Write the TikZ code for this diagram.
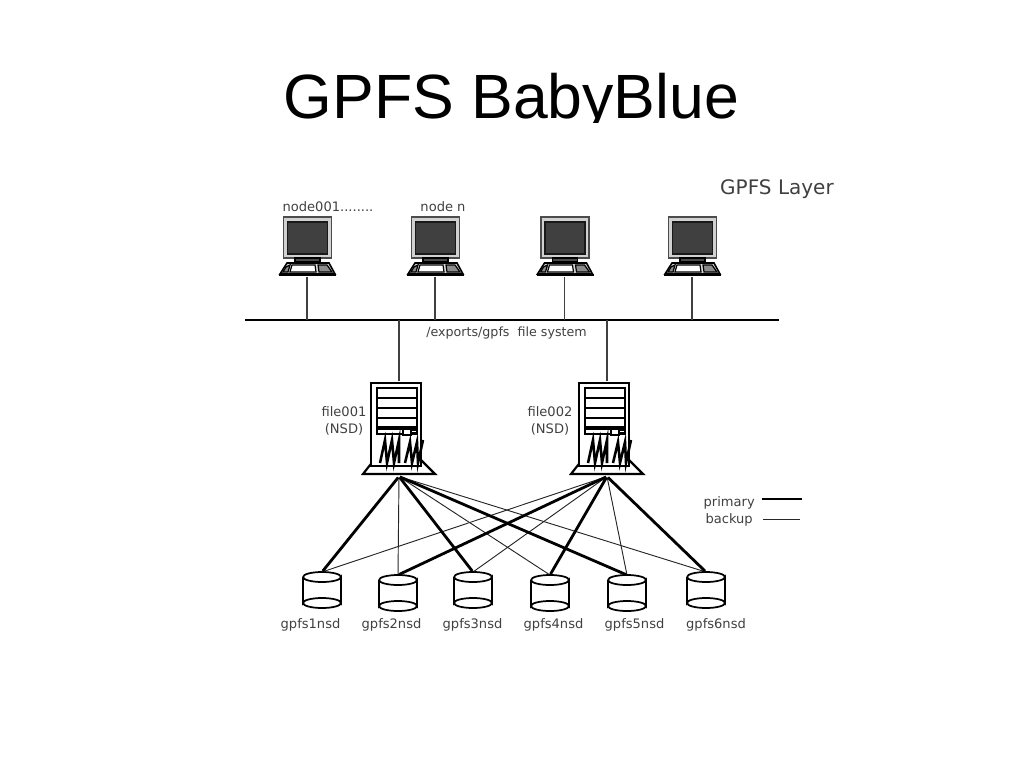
\documentclass[tikz,border=0pt]{standalone}
\usepackage{fontspec}
\setmainfont{DejaVu Sans}
\newfontfamily\titlefont{Liberation Sans}
\usetikzlibrary{arrows,shapes,positioning}
\tikzstyle{label} = [text=black!75, font=\fontsize{9.8pt}{12.8pt}\selectfont, align=center, inner sep=0pt]
\tikzstyle{anchorbox} = [inner sep=0pt, minimum width=1pt, minimum height=1pt]
\tikzstyle{thinline} = [black!75, line width=0.8pt]
\tikzstyle{backup} = [black!85, line width=0.7pt]
\tikzstyle{primary} = [black, line width=2.1pt]
\tikzstyle{frame} = [draw=black, line width=1.2pt]
% monitor with keyboard: x, y of its top left corner, name
\newcommand{\monitor}[3]{
    \begin{scope}[shift={(#1,#2)}]
        \draw [black!70, line width=0.8pt, fill=black!18] (4.5,0) rectangle (52.5,41);
        \draw [black!90, line width=1pt, fill=black!75] (8.5,5) rectangle (48.5,37);
        \draw [line width=0.8pt, fill=black!70] (16,41) rectangle (41,45);
        \draw [line width=1.2pt, fill=black!15] (8,46) -- (50,46) -- (56,57) -- (1,57) -- cycle;
        \draw [line width=0.9pt, fill=white] (13,48) -- (36,48) -- (37,55) -- (11,55) -- cycle;
        \draw [line width=0.9pt, fill=black!45] (7,50) -- (11,48) -- (9,55) -- (4,55) -- cycle;
        \draw [line width=0.9pt, fill=black!45] (39,48) -- (48,48) -- (53,55) -- (40,55) -- cycle;
        \draw [line width=1.8pt] (0,58) -- (57,58);
        \node (#3) [anchorbox] at (28,59) {};
    \end{scope}
}
% file server on its foot: x, y of its top left corner, name
\newcommand{\fileserver}[3]{
    \begin{scope}[shift={(#1,#2)}]
        \draw [frame, line width=1.6pt, fill=white] (-8,92) -- (64,92) -- (50,78) -- (3,78) -- cycle;
        \draw [frame, line width=1.7pt, fill=white] (0,1) rectangle (50,84);
        \draw [frame, fill=white] (6,6) rectangle (46,16);
        \draw [frame, fill=white] (6,16) rectangle (46,26);
        \draw [frame, fill=white] (6,26) rectangle (46,36);
        \draw [frame, fill=white] (6,36) rectangle (46,45);
        \draw [frame, line width=1.6pt, fill=white] (6,46.5) rectangle (46,52);
        \draw [frame, fill=white] (32,47) rectangle (40,53);
        \draw [line width=1.2pt] (41,48) -- (47,48) (41,51) -- (47,51);
        \draw [line width=1.9pt] (9,81) -- (14,58) -- (16,81) -- (21,58) -- (23,81) -- (28,58) -- (28,81);
        \draw [line width=1.9pt] (34,81) -- (39,60) -- (41,81) -- (46,60) -- (47,81) -- (52,58);
        \node (#3) [anchorbox] at (28,0) {};
        \node (#3b) [anchorbox] at (28,94.5) {};
    \end{scope}
}
% disk: x, y of centre, name
\newcommand{\diskunit}[3]{
    \begin{scope}[shift={(#1,#2)}]
        \draw [line width=1.3pt, fill=white] (-19,-13) -- (-19,13) arc (180:360:19 and 5) -- (19,-13) arc (0:180:19 and 5);
        \draw [line width=1.3pt] (-19,-13) arc (180:360:19 and 5);
        \draw [line width=1.3pt] (-19,13) arc (180:0:19 and 5);
        \node (#3) [anchorbox] at (0,-18) {};
    \end{scope}
}
\begin{document}
\begin{tikzpicture}[x=0.75pt, y=-0.75pt]
    \useasboundingbox (0,0) rectangle (1024,768);
    % title
    \node (title) [font=\titlefont\fontsize{46.9pt}{50pt}\selectfont, inner sep=0pt, anchor=base] at (511.5,118) {GPFS BabyBlue};
    \fill [white] (270,123) rectangle (760,145);
    \node (layer) [label, font=\fontsize{15pt}{18pt}\selectfont] at (777,189) {GPFS Layer};
    % clients and bus
    \monitor{279}{217}{m1}
    \monitor{407}{217}{m2}
    \monitor{536.5}{217}{m3}
    \monitor{664}{217}{m4}
    \node (n1) [label] at (328,207) {node001........};
    \node (n2) [label] at (443,207) {node n};
    \coordinate (busl) at (245,320);
    \coordinate (busr) at (779,320);
    \draw [line width=2.2pt] (busl) -- (busr);
    \draw [thinline] (m1) -- (m1 |- busl);
    \draw [thinline] (m2) -- (m2 |- busl);
    \draw [thinline] (m3) -- (m3 |- busl);
    \draw [thinline] (m4) -- (m4 |- busl);
    \node (fs) [label, font=\fontsize{9.5pt}{12pt}\selectfont] at (506.5,333) {/exports/gpfs\ \ file system};
    % servers
    \fileserver{371}{382}{s1}
    \fileserver{579}{382}{s2}
    \draw [thinline] (s1 |- busl) -- (s1);
    \draw [thinline] (s2 |- busl) -- (s2);
    \node (s1l) [label] at (344,421) {file001\\(NSD)};
    \node (s2l) [label] at (550,421) {file002\\(NSD)};
    % disks
    \diskunit{322}{590}{d1}
    \diskunit{398}{593}{d2}
    \diskunit{473}{590}{d3}
    \diskunit{550}{593}{d4}
    \diskunit{627}{593}{d5}
    \diskunit{706}{590}{d6}
    \node (d1l) [label] at (310.5,625) {gpfs1nsd};
    \node (d2l) [label] at (391.5,625) {gpfs2nsd};
    \node (d3l) [label] at (472.5,625) {gpfs3nsd};
    \node (d4l) [label] at (553.5,625) {gpfs4nsd};
    \node (d5l) [label] at (634.5,625) {gpfs5nsd};
    \node (d6l) [label] at (716,625) {gpfs6nsd};
    % connections
    \foreach \d in {d2,d4,d6} \draw [backup] (s1b) -- (\d);
    \foreach \d in {d1,d3,d5} \draw [backup] (s2b) -- (\d);
    \foreach \d in {d1,d3,d5} \draw [primary] (s1b) -- (\d);
    \foreach \d in {d2,d4,d6} \draw [primary] (s2b) -- (\d);
    % legend
    \node (lp) [label, anchor=east] at (755,503) {primary};
    \node (lb) [label, anchor=east] at (753,520) {backup};
    \coordinate (lp1) at (762,499);
    \coordinate (lp2) at (802,499);
    \coordinate (lb1) at (763,519);
    \coordinate (lb2) at (800,519);
    \draw [primary] (lp1) -- (lp2);
    \draw [backup] (lb1) -- (lb2);
\end{tikzpicture}
\end{document}
